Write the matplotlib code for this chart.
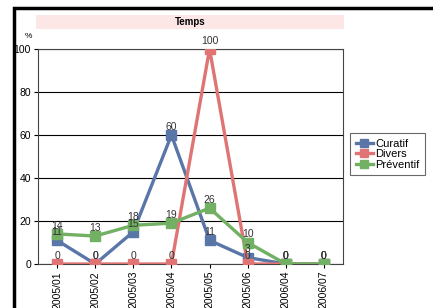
import matplotlib
matplotlib.use("Agg")
import matplotlib.pyplot as plt
from matplotlib.patches import Rectangle
from matplotlib.lines import Line2D

categories = ["2005/01", "2005/02", "2005/03", "2005/04", "2005/05", "2005/06", "2006/04", "2006/07"]
curatif = [11, 0, 15, 60, 11, 3, 0, 0]
divers = [0, 0, 0, 0, 100, 0, 0, 0]
preventif = [14, 13, 18, 19, 26, 10, 0, 0]
series_names = ["Curatif", "Divers", "Préventif"]
colors = ["#5a76a8", "#e07474", "#72b064"]

W, H = 433, 308
fig = plt.figure(figsize=(W / 100, H / 100), dpi=100)
fig.patch.set_facecolor("white")

# outer frame
fig.add_artist(Rectangle((14 / W, -0.1), 1.2, 1 - 8 / H + 0.1, transform=fig.transFigure,
                         fill=False, edgecolor="black", linewidth=2.5))
# title band
fig.add_artist(Rectangle((36 / W, 1 - 29 / H), (344 - 36) / W, 14 / H, transform=fig.transFigure,
                         facecolor="#fde6e6", edgecolor="none"))
fig.text(190 / W, 1 - 22 / H, "Temps", ha="center", va="center", fontsize=7, fontweight="bold",
         family="Liberation Sans")
fig.text(28 / W, 1 - 36 / H, "%", ha="center", va="center", fontsize=6, family="Liberation Sans")

ax = fig.add_axes([38 / W, 1 - 264 / H, (343 - 38) / W, (264 - 49) / H])
x = list(range(len(categories)))
for vals, c, name in zip([curatif, divers, preventif], colors, series_names):
    ax.plot(x, vals, color=c, linewidth=2.4, marker="s", markersize=6.5, label=name, zorder=3)
for vals in [curatif, divers, preventif]:
    for xi, v in zip(x, vals):
        ax.text(xi, v + 1.5, str(v), ha="center", va="bottom", fontsize=7.5, color="#333333",
                family="Liberation Sans", zorder=4)

ax.set_xlim(-0.5, len(categories) - 0.5)
ax.set_ylim(0, 100)
ax.set_yticks([0, 20, 40, 60, 80, 100])
ax.set_xticks(x)
ax.set_xticklabels(categories, rotation=90, fontsize=7.5, family="Liberation Sans")
for lab in ax.get_yticklabels():
    lab.set_fontsize(7.5)
    lab.set_family("Liberation Sans")
ax.tick_params(axis="both", length=3, width=0.8, pad=2)
ax.grid(axis="y", color="black", linewidth=0.8)
ax.set_axisbelow(True)
for s in ax.spines.values():
    s.set_color("#444444")
    s.set_linewidth(0.8)

handles = [Line2D([0], [0], color=c, linewidth=2.4, marker="s", markersize=6) for c in colors]
leg = fig.legend(handles, series_names, loc="upper left", bbox_to_anchor=(350 / W, 1 - 133 / H),
                 frameon=True, fancybox=False, handlelength=1.6, handletextpad=0.2,
                 borderpad=0.5, labelspacing=0.05, borderaxespad=0,
                 prop={"family": "Liberation Sans", "size": 8})
leg.get_frame().set_edgecolor("#444444")
leg.get_frame().set_linewidth(0.8)

fig.savefig("out.png", dpi=100)
